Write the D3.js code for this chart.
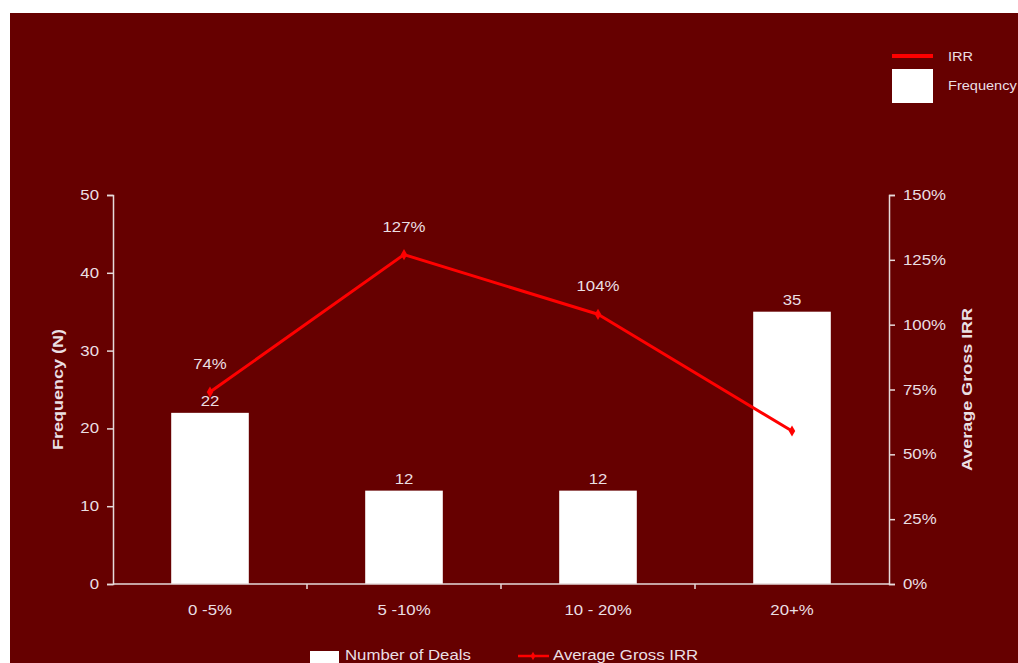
<!DOCTYPE html>
<html>
<head>
<meta charset="utf-8">
<script src="https://cdn.jsdelivr.net/npm/d3@7"></script>
<style>
  html, body { margin: 0; padding: 0; background: #ffffff; }
  svg { display: block; font-family: "Liberation Sans", Arial, sans-serif; }
</style>
</head>
<body>
<svg id="chart" width="1018" height="663"></svg>
<script>
// IRR buckets, deal counts and average gross IRR per bucket
const categories = ["0 -5%", "5 -10%", "10 - 20%", "20+%"];
const deals = [22, 12, 12, 35];
const grossIrr = [74, 127, 104, 59];
const irrLabels = ["74%", "127%", "104%", null];
const leftTicks = [0, 10, 20, 30, 40, 50];
const rightTicks = [0, 25, 50, 75, 100, 125, 150];

const textColor = "#eadfe3";
const axisColor = "#e6dada";
const lineColor = "#ff0000";
const stretch = 1.12;   // horizontally widened lettering

const svg = d3.select("#chart");

// place a text at (x, y), widened horizontally
function label(sel, x, y, str, opts = {}) {
  const t = sel.append("text")
    .attr("transform", `translate(${x},${y})${opts.rotate ? ` rotate(${opts.rotate})` : ""} scale(${opts.sx || stretch},1)`)
    .attr("text-anchor", opts.anchor || "start")
    .attr("font-size", opts.size || 15)
    .attr("fill", textColor)
    .text(str);
  if (opts.bold) t.attr("font-weight", "bold");
  return t;
}

// background panel
svg.append("rect")
  .attr("x", 10).attr("y", 13)
  .attr("width", 1008).attr("height", 650)
  .attr("fill", "#660000");

const plot = { left: 113, right: 889, top: 195, bottom: 584 };

const x = d3.scaleBand()
  .domain(categories)
  .range([plot.left, plot.right])
  .paddingInner(0.6)
  .paddingOuter(0.3);

const yLeft = d3.scaleLinear().domain([0, 50]).range([plot.bottom, plot.top]);
const yRight = d3.scaleLinear().domain([0, 150]).range([plot.bottom, plot.top]);

const center = d => x(d) + x.bandwidth() / 2;

// bars
svg.append("g").selectAll("rect")
  .data(categories)
  .join("rect")
  .attr("x", d => x(d))
  .attr("y", (d, i) => yLeft(deals[i]))
  .attr("width", x.bandwidth())
  .attr("height", (d, i) => plot.bottom - yLeft(deals[i]))
  .attr("fill", "#ffffff");

// bar value labels
const barLabels = svg.append("g");
categories.forEach((c, i) => {
  label(barLabels, center(c), yLeft(deals[i]) - 7, deals[i], { anchor: "middle" });
});

// left axis
const gLeft = svg.append("g")
  .attr("transform", `translate(${plot.left},0)`)
  .call(d3.axisLeft(yLeft).tickValues(leftTicks).tickSize(6).tickFormat("").tickSizeOuter(6));
leftTicks.forEach(t => label(svg, plot.left - 14, yLeft(t) + 5, t, { anchor: "end" }));

// right axis
const gRight = svg.append("g")
  .attr("transform", `translate(${plot.right},0)`)
  .call(d3.axisRight(yRight).tickValues(rightTicks).tickSize(6).tickFormat("").tickSizeOuter(6));
rightTicks.forEach(t => label(svg, plot.right + 14, yRight(t) + 5, t + "%"));

[gLeft, gRight].forEach(g => {
  g.selectAll("path, line").attr("stroke", axisColor).attr("stroke-width", 1.5);
});

// bottom axis: ticks between categories
const boundaries = categories.slice(1).map(c => x(c) - x.step() * x.paddingInner() / 2);
const gBottom = svg.append("g")
  .attr("transform", `translate(0,${plot.bottom})`);
gBottom.append("line")
  .attr("x1", plot.left).attr("x2", plot.right)
  .attr("stroke", axisColor).attr("stroke-width", 1.5);
gBottom.selectAll("line.tick")
  .data(boundaries)
  .join("line")
  .attr("class", "tick")
  .attr("x1", d => d).attr("x2", d => d)
  .attr("y1", 0).attr("y2", 5)
  .attr("stroke", axisColor).attr("stroke-width", 1.5);
categories.forEach(c => label(gBottom, center(c), 31, c, { anchor: "middle" }));

// axis titles
label(svg, 63, (plot.top + plot.bottom) / 2, "Frequency (N)",
  { anchor: "middle", rotate: -90, bold: true, sx: 1.2 });
label(svg, 972, (plot.top + plot.bottom) / 2, "Average Gross IRR",
  { anchor: "middle", rotate: -90, bold: true, sx: 1.2 });

// IRR line
const line = d3.line()
  .x((d, i) => center(categories[i]))
  .y(d => yRight(d));
svg.append("path")
  .datum(grossIrr)
  .attr("d", line)
  .attr("fill", "none")
  .attr("stroke", lineColor)
  .attr("stroke-width", 3)
  .attr("stroke-linejoin", "round");
svg.append("g").selectAll("path")
  .data(grossIrr)
  .join("path")
  .attr("d", d3.symbol(d3.symbolDiamond, 36))
  .attr("transform", (d, i) => `translate(${center(categories[i])},${yRight(d)})`)
  .attr("fill", lineColor);

// IRR value labels
const irrG = svg.append("g");
grossIrr.forEach((v, i) => {
  if (irrLabels[i]) label(irrG, center(categories[i]), yRight(v) - 23, irrLabels[i], { anchor: "middle" });
});

// top-right legend
const legTop = svg.append("g");
legTop.append("line")
  .attr("x1", 892).attr("x2", 933).attr("y1", 56).attr("y2", 56)
  .attr("stroke", lineColor).attr("stroke-width", 4);
legTop.append("rect")
  .attr("x", 892).attr("y", 69).attr("width", 41).attr("height", 34)
  .attr("fill", "#ffffff");
label(legTop, 948, 61, "IRR", { size: 13 });
label(legTop, 948, 90, "Frequency", { size: 13 });

// bottom legend
const legBot = svg.append("g");
legBot.append("rect")
  .attr("x", 310).attr("y", 651).attr("width", 29).attr("height", 14)
  .attr("fill", "#ffffff");
label(legBot, 345, 660, "Number of Deals");
legBot.append("line")
  .attr("x1", 518).attr("x2", 549).attr("y1", 656).attr("y2", 656)
  .attr("stroke", lineColor).attr("stroke-width", 2.5);
legBot.append("path")
  .attr("d", d3.symbol(d3.symbolDiamond, 20))
  .attr("transform", "translate(533,656)")
  .attr("fill", lineColor);
label(legBot, 553, 660, "Average Gross IRR");
</script>
</body>
</html>
